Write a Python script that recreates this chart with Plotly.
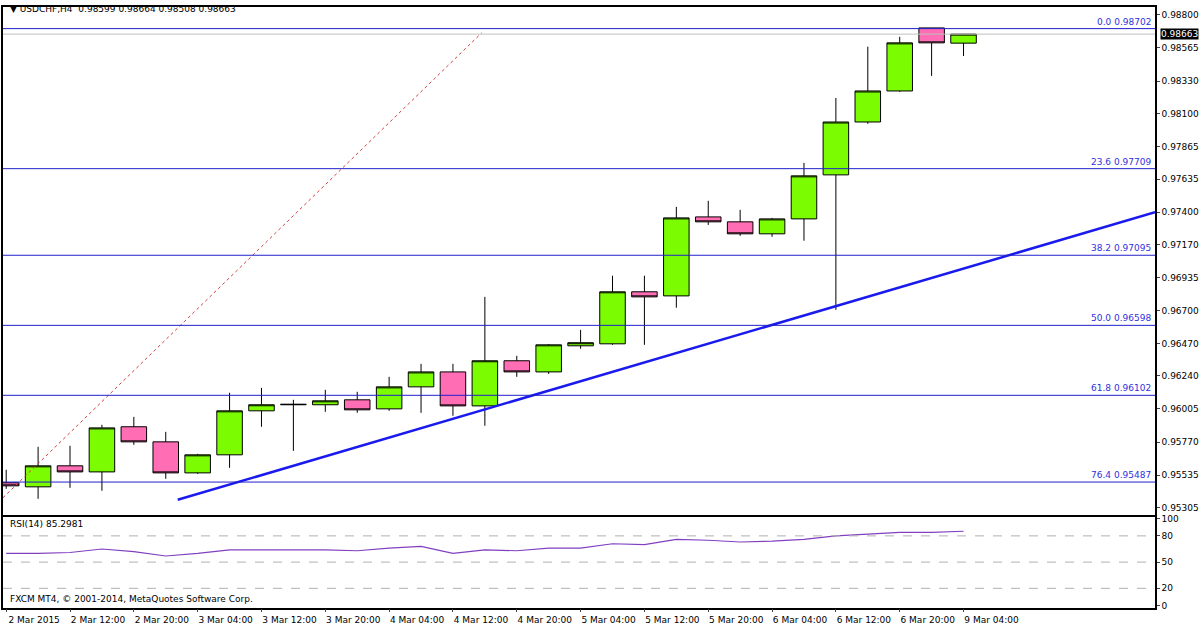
import plotly.graph_objects as go

# H4 bars, 2 Mar 04:00 .. 9 Mar 04:00
bar_idx = list(range(31))
opens = [0.95482, 0.95453, 0.95602, 0.95559, 0.95879, 0.95772, 0.95552, 0.95680, 0.95992, 0.96035,
         0.96035, 0.96070, 0.96006, 0.96162, 0.96268, 0.96027, 0.96347, 0.96268, 0.96453, 0.96467,
         0.96836, 0.96807, 0.97367, 0.97332, 0.97247, 0.97353, 0.97665, 0.98040, 0.98260, 0.98707, 0.98599]
highs = [0.95574, 0.95737, 0.95744, 0.95893, 0.95949, 0.95843, 0.95687, 0.96120, 0.96155, 0.96070,
         0.96141, 0.96127, 0.96233, 0.96325, 0.96325, 0.96800, 0.96382, 0.96466, 0.96566, 0.96950,
         0.96950, 0.97438, 0.97481, 0.97417, 0.97360, 0.97750, 0.98210, 0.98574, 0.98644, 0.98707, 0.98664]
lows = [0.95439, 0.95368, 0.95446, 0.95425, 0.95751, 0.95510, 0.95545, 0.95588, 0.95879, 0.95708,
        0.95985, 0.95978, 0.95992, 0.95978, 0.95957, 0.95886, 0.96233, 0.96254, 0.96432, 0.96460,
        0.96460, 0.96723, 0.97310, 0.97233, 0.97226, 0.97198, 0.96708, 0.98027, 0.98254, 0.98367, 0.98508]
closes = [0.95460, 0.95602, 0.95559, 0.95871, 0.95772, 0.95552, 0.95680, 0.95992, 0.96035, 0.96038,
          0.96063, 0.95999, 0.96162, 0.96268, 0.96027, 0.96347, 0.96268, 0.96460, 0.96475, 0.96836,
          0.96800, 0.97360, 0.97332, 0.97247, 0.97353, 0.97658, 0.98040, 0.98260, 0.98601, 0.98601, 0.98663]
rsi = [60, 60, 61, 65, 62, 57, 60, 64, 64, 64, 64, 63, 66, 68, 60, 64, 63, 66, 66, 71,
       70, 76, 75, 73, 74, 76, 80, 82, 84, 84, 85.3]

tick_idx = list(range(0, 31, 2))
tick_text = ["2 Mar 2015", "2 Mar 12:00", "2 Mar 20:00", "3 Mar 04:00", "3 Mar 12:00", "3 Mar 20:00",
             "4 Mar 04:00", "4 Mar 12:00", "4 Mar 20:00", "5 Mar 04:00", "5 Mar 12:00", "5 Mar 20:00",
             "6 Mar 04:00", "6 Mar 12:00", "6 Mar 20:00", "9 Mar 04:00"]
price_ticks = [0.98800, 0.98565, 0.98330, 0.98100, 0.97865, 0.97635, 0.97400, 0.97170, 0.96935,
               0.96700, 0.96470, 0.96240, 0.96005, 0.95770, 0.95535, 0.95305]

fib_levels = [0.0, 23.6, 38.2, 50.0, 61.8, 76.4]
fib_prices = [0.98702, 0.97709, 0.97095, 0.96598, 0.96102, 0.95487]

trend_x = [5.375, 36]
trend_y = [0.95361, 0.97400]
fibline_x = [-0.1, 14.9]
fibline_y = [0.95376, 0.98672]
last_price = 0.98663

font = "DejaVu Sans"
fig = go.Figure()
fig.add_trace(go.Scatter(x=fibline_x, y=fibline_y, mode="lines", xaxis="x2", yaxis="y2",
                         line=dict(color="#d04040", width=1, dash="dot"), hoverinfo="skip"))
fig.add_trace(go.Scatter(x=trend_x, y=trend_y, mode="lines", xaxis="x2", yaxis="y2",
                         line=dict(color="#1a1aee", width=2.5), hoverinfo="skip"))
fig.add_trace(go.Candlestick(x=bar_idx, open=opens, high=highs, low=lows, close=closes,
                             xaxis="x2", yaxis="y2", whiskerwidth=0,
                             increasing=dict(fillcolor="#7cfc00", line=dict(color="black", width=1)),
                             decreasing=dict(fillcolor="#ff6eb4", line=dict(color="black", width=1))))
fig.add_trace(go.Scatter(x=bar_idx, y=rsi, mode="lines", line=dict(color="#8040c0", width=1.2)))

shapes = []
for p in fib_prices:
    shapes.append(dict(type="line", xref="x2 domain", yref="y2", x0=0, x1=1, y0=p, y1=p,
                       line=dict(color="#2020cc", width=1)))
shapes.append(dict(type="line", xref="x2 domain", yref="y2", x0=0, x1=1, y0=last_price, y1=last_price,
                   line=dict(color="#c0c0c0", width=1)))
for v in [80, 50, 20]:
    shapes.append(dict(type="line", xref="x domain", yref="y", x0=0, x1=1, y0=v, y1=v,
                       line=dict(color="#b0b0b0", width=1, dash="dash")))

fs = 9
ann = []
for lv, p in zip(fib_levels, fib_prices):
    ann.append(dict(xref="x2 domain", yref="y2", x=0.998, y=p, xanchor="right", yanchor="bottom",
                    text=f"{lv:.1f} {p:.5f}", showarrow=False, font=dict(color="#3030dd", size=fs, family=font)))
ann.append(dict(xref="paper", yref="y2", x=1.004, y=last_price, xanchor="left", yanchor="middle",
                text=f"{last_price:.5f}", showarrow=False, bgcolor="black",
                font=dict(color="white", size=fs, family=font), borderpad=0))
ann.append(dict(xref="paper", yref="paper", x=0.004, y=0.997, xanchor="left", yanchor="top", showarrow=False,
                text="▼ USDCHF,H4  0.98599 0.98664 0.98508 0.98663", font=dict(size=fs, family=font, color="black")))
ann.append(dict(xref="paper", yref="paper", x=0.004, y=0.176, xanchor="left", yanchor="top", showarrow=False,
                text="RSI(14) 85.2981", font=dict(size=fs, family=font, color="black")))
ann.append(dict(xref="paper", yref="paper", x=0.004, y=0.033, xanchor="left", yanchor="bottom", showarrow=False,
                text="FXCM MT4, © 2001-2014, MetaQuotes Software Corp.", font=dict(size=fs, family=font, color="black")))

axis_common = dict(showline=True, linecolor="black", linewidth=1.5, mirror=True, showgrid=False,
                   zeroline=False, automargin=False)
fig.update_layout(
    width=1200, height=627, margin=dict(l=3, r=45, t=0, b=0, autoexpand=False),
    paper_bgcolor="white", plot_bgcolor="white", showlegend=False,
    font=dict(family=font, size=fs, color="black"),
    boxgap=0.2, boxgroupgap=0,
    xaxis=dict(domain=[0, 1], range=[-0.1, 36], anchor="y", tickvals=tick_idx, ticktext=tick_text,
               ticks="outside", ticklen=3, ticklabelshift=28, ticklabelstandoff=0, **axis_common),
    yaxis=dict(domain=[0.031, 0.176], range=[-2, 102], side="right", tickvals=[100, 80, 50, 20, 0],
               ticks="outside", ticklen=3, **axis_common),
    xaxis2=dict(domain=[0, 1], range=[-0.1, 36], anchor="y2", matches="x", showticklabels=False,
                rangeslider=dict(visible=False), **axis_common),
    yaxis2=dict(domain=[0.179, 0.989], range=[0.95255, 0.98856], side="right", tickvals=price_ticks,
                tickformat=".5f", ticks="outside", ticklen=3, **axis_common),
    shapes=shapes, annotations=ann,
)
fig.write_html("out.html", config={"displayModeBar": False},
               post_script="document.body.style.margin='0';document.body.style.overflow='hidden';")
